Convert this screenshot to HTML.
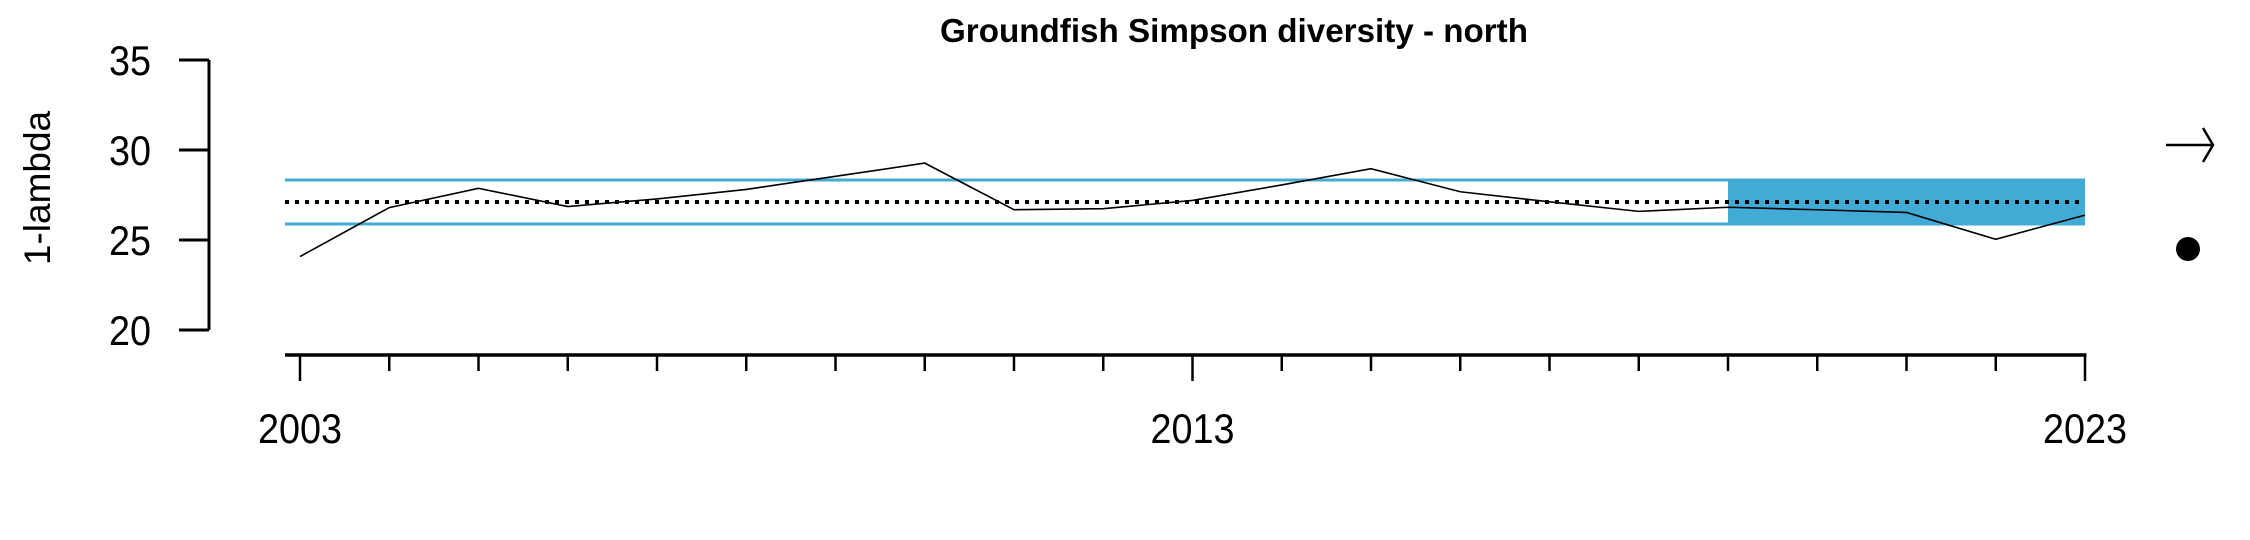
<!DOCTYPE html>
<html><head><meta charset="utf-8"><style>body{margin:0;background:#fff}svg{display:block}</style></head>
<body>
<svg id="chart" width="2250" height="540" xmlns="http://www.w3.org/2000/svg" font-family="Liberation Sans, sans-serif">
<text x="1234" y="42" text-anchor="middle" font-size="33" font-weight="bold" textLength="588" lengthAdjust="spacingAndGlyphs">Groundfish Simpson diversity - north</text>
<text transform="translate(50,188) rotate(-90)" text-anchor="middle" font-size="37">1-lambda</text>
<g id="plot"></g>
<g stroke="#000" stroke-width="2.5" fill="none">
<line x1="2166" y1="145" x2="2213" y2="145"/><path d="M2203,128 L2213,145 L2203,162"/>
</g>
<circle cx="2188" cy="249" r="12" fill="#000"/>
</svg>
<script>
const years=[2003,2004,2005,2006,2007,2008,2009,2010,2011,2012,2013,2014,2015,2016,2017,2018,2019,2020,2021,2022,2023];
const values=[24.08,26.8,27.87,26.86,27.28,27.81,28.54,29.27,26.68,26.74,27.2,28.06,28.96,27.68,27.12,26.59,26.82,26.68,26.53,25.04,26.38];
const meanValue=27.11;
const upperSD=28.33;
const lowerSD=25.89;
const shadeStart=2019;
const yTicks=[20,25,30,35];
const xLabels=[2003,2013,2023];
const NS='http://www.w3.org/2000/svg';
const X=y=>300+(y-2003)*89.25;
const Y=v=>330-(v-20)*18;
const g=document.getElementById('plot');
function mk(t,a){const e=document.createElementNS(NS,t);for(const k in a)e.setAttribute(k,a[k]);g.appendChild(e);return e;}
const x0=285,x1=X(years[years.length-1]);
let r=mk('rect',{x:X(shadeStart),y:Y(upperSD),width:x1-X(shadeStart),height:Y(lowerSD)-Y(upperSD),fill:'#41ABD6'});


let l=mk('line',{x1:x0,x2:x1,y1:Y(upperSD),y2:Y(upperSD),stroke:'#41ABD6','stroke-width':3});


l=mk('line',{x1:x0,x2:x1,y1:Y(lowerSD),y2:Y(lowerSD),stroke:'#41ABD6','stroke-width':3});


l=mk('line',{x1:x0,x2:x1,y1:Y(meanValue),y2:Y(meanValue),stroke:'#000','stroke-width':4,'stroke-dasharray':'4 6'});


let p=mk('polyline',{points:years.map((y,i)=>X(y)+','+Y(values[i])).join(' '),fill:'none',stroke:'#000','stroke-width':1.6});


l=mk('line',{x1:209,x2:209,y1:Y(35),y2:Y(20),stroke:'#000','stroke-width':3});


yTicks.forEach(v=>{
 const t=mk('line',{x1:179,x2:209,y1:Y(v),y2:Y(v),stroke:'#000','stroke-width':3});
 
 
 const tx=mk('text',{x:151,y:Y(v)+15,'text-anchor':'end','font-size':42,textLength:42,lengthAdjust:'spacingAndGlyphs'});
 tx.textContent=v;
 
 
});
l=mk('line',{x1:x0,x2:x1+1.5,y1:355,y2:355,stroke:'#000','stroke-width':3.5});


years.forEach(y=>{
 const major=xLabels.includes(y);
 const t=mk('line',{x1:X(y),x2:X(y),y1:355,y2:major?381:371,stroke:'#000','stroke-width':2.5});
 
 
});
xLabels.forEach(y=>{
 const tx=mk('text',{x:X(y),y:443,'text-anchor':'middle','font-size':42,textLength:84,lengthAdjust:'spacingAndGlyphs'});
 tx.textContent=y;
 
 
});
</script>
</body></html>
